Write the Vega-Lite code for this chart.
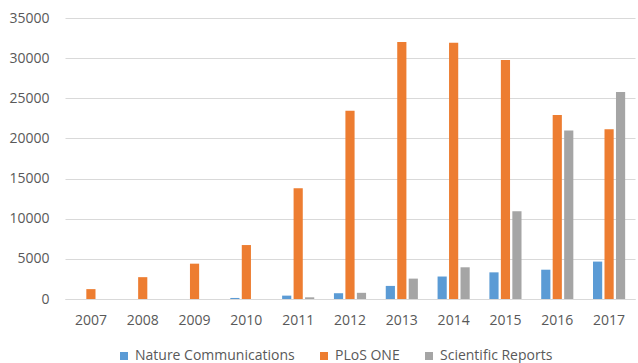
{
  "$schema": "https://vega.github.io/schema/vega-lite/v6.json",
  "width": 570,
  "height": 281,
  "autosize": {"type": "pad"},
  "padding": {"left": 8, "top": 11, "right": 2, "bottom": 0},
  "config": {
    "view": {"stroke": null},
    "font": "Open Sans",
    "axis": {"labelFont": "Open Sans", "labelColor": "#595959", "labelFontSize": 14},
    "legend": {"labelFont": "Open Sans", "labelColor": "#595959", "labelFontSize": 14}
  },
  "data": {
    "values": [
      {"year": "2007", "journal": "Nature Communications", "count": 0},
      {"year": "2007", "journal": "PLoS ONE", "count": 1230},
      {"year": "2007", "journal": "Scientific Reports", "count": 0},
      {"year": "2008", "journal": "Nature Communications", "count": 0},
      {"year": "2008", "journal": "PLoS ONE", "count": 2720},
      {"year": "2008", "journal": "Scientific Reports", "count": 0},
      {"year": "2009", "journal": "Nature Communications", "count": 0},
      {"year": "2009", "journal": "PLoS ONE", "count": 4400},
      {"year": "2009", "journal": "Scientific Reports", "count": 0},
      {"year": "2010", "journal": "Nature Communications", "count": 130},
      {"year": "2010", "journal": "PLoS ONE", "count": 6720},
      {"year": "2010", "journal": "Scientific Reports", "count": 0},
      {"year": "2011", "journal": "Nature Communications", "count": 420},
      {"year": "2011", "journal": "PLoS ONE", "count": 13790},
      {"year": "2011", "journal": "Scientific Reports", "count": 210},
      {"year": "2012", "journal": "Nature Communications", "count": 720},
      {"year": "2012", "journal": "PLoS ONE", "count": 23440},
      {"year": "2012", "journal": "Scientific Reports", "count": 770},
      {"year": "2013", "journal": "Nature Communications", "count": 1630},
      {"year": "2013", "journal": "PLoS ONE", "count": 32000},
      {"year": "2013", "journal": "Scientific Reports", "count": 2540},
      {"year": "2014", "journal": "Nature Communications", "count": 2800},
      {"year": "2014", "journal": "PLoS ONE", "count": 31920},
      {"year": "2014", "journal": "Scientific Reports", "count": 3950},
      {"year": "2015", "journal": "Nature Communications", "count": 3320},
      {"year": "2015", "journal": "PLoS ONE", "count": 29760},
      {"year": "2015", "journal": "Scientific Reports", "count": 10920},
      {"year": "2016", "journal": "Nature Communications", "count": 3650},
      {"year": "2016", "journal": "PLoS ONE", "count": 22920},
      {"year": "2016", "journal": "Scientific Reports", "count": 21000},
      {"year": "2017", "journal": "Nature Communications", "count": 4660},
      {"year": "2017", "journal": "PLoS ONE", "count": 21130},
      {"year": "2017", "journal": "Scientific Reports", "count": 25780}
    ]
  },
  "mark": {"type": "bar"},
  "encoding": {
    "x": {
      "field": "year", "type": "nominal", "title": null,
      "scale": {"paddingInner": 0.38, "paddingOuter": 0.19},
      "axis": {"labelAngle": 0, "ticks": false, "domainColor": "#d9d9d9", "domainWidth": 1, "labelPadding": 14, "grid": false}
    },
    "xOffset": {"field": "journal", "type": "nominal", "scale": {"paddingInner": 0.2}},
    "y": {
      "field": "count", "type": "quantitative", "title": null,
      "scale": {"domain": [0, 35000], "nice": false},
      "axis": {"values": [0, 5000, 10000, 15000, 20000, 25000, 30000, 35000], "format": "d", "ticks": false, "domain": false, "gridColor": "#d9d9d9", "labelPadding": 16}
    },
    "color": {
      "field": "journal", "type": "nominal", "title": null,
      "scale": {"domain": ["Nature Communications", "PLoS ONE", "Scientific Reports"], "range": ["#5B9BD5", "#ED7D31", "#A5A5A5"]},
      "legend": {"orient": "none", "legendX": 52, "legendY": 331, "direction": "horizontal", "symbolType": "square", "symbolSize": 64, "symbolStrokeWidth": 0, "columnPadding": 22, "labelOffset": 4}
    }
  }
}
